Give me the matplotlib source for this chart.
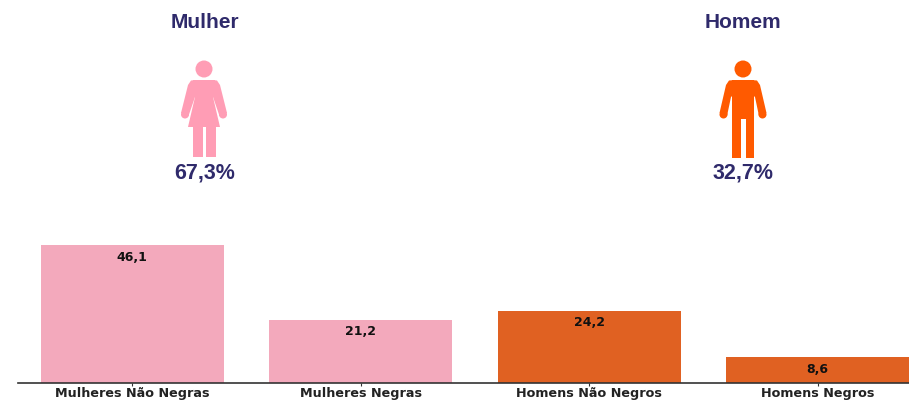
import matplotlib
matplotlib.use('Agg')
import matplotlib.pyplot as plt
from matplotlib.patches import Circle, Polygon, Rectangle

categorias = ['Mulheres Não Negras', 'Mulheres Negras', 'Homens Não Negros', 'Homens Negros']
valores = [46.1, 21.2, 24.2, 8.6]
rotulos = ['46,1', '21,2', '24,2', '8,6']
cores = ['#f3a9bc', '#f3a9bc', '#e06122', '#e06122']

generos = ['Mulher', 'Homem']
percentuais = ['67,3%', '32,7%']
ROXO = '#2f2a6b'
ROSA = '#ff9db5'
LARANJA = '#ff5a00'

W, H = 909, 400

fig = plt.figure(figsize=(W / 100, H / 100), dpi=100)

# area das barras, em pixels da imagem
ax = fig.add_axes([18 / W, (H - 383) / H, (W - 18) / W, 153 / H])
ax.bar(range(4), valores, width=0.8, color=cores)
ax.set_xlim(-0.5, 3.4)
ax.set_ylim(0, 51.2)
ax.set_xticks(range(4))
ax.set_xticklabels(categorias, fontsize=9.2, fontweight='bold', color='#222222')
ax.tick_params(axis='x', length=2, width=0.8, pad=0.8, color='#333333')
ax.set_yticks([])
for lado in ['top', 'right', 'left']:
    ax.spines[lado].set_visible(False)
ax.spines['bottom'].set_color('#333333')
ax.spines['bottom'].set_linewidth(1.2)

for i, v in enumerate(valores):
    ax.annotate(rotulos[i], (i, v), xytext=(0, -8.5), textcoords='offset points',
                ha='center', va='center', fontsize=9, fontweight='bold', color='#111111')

# camada de cima para os icones e os titulos
topo = fig.add_axes([0, 0, 1, 1])
topo.set_xlim(0, W)
topo.set_ylim(H, 0)
topo.axis('off')


def bracos(cx, cor, fora, dentro, mao):
    # fora: ombro externo, dentro: axila, mao: centro da mao
    for s in [-1, 1]:
        topo.add_patch(Polygon([(cx + s * 8, 80), (cx + s * (fora - 3), 80.5), (cx + s * fora, 85),
                                (cx + s * (mao + 4), 113), (cx + s * (mao - 3.5), 116),
                                (cx + s * dentro, 97), (cx + s * 6, 92)], closed=True, color=cor, lw=0))
        topo.add_patch(Circle((cx + s * mao, 114.5), 4, color=cor, lw=0))


def mulher(cx, cor):
    topo.add_patch(Circle((cx, 69), 8.5, color=cor, lw=0))
    # vestido
    topo.add_patch(Polygon([(cx - 11, 80), (cx + 11, 80), (cx + 9, 97), (cx + 16, 127),
                            (cx - 16, 127), (cx - 9, 97)], closed=True, color=cor, lw=0))
    bracos(cx, cor, 16, 9, 19)
    # pernas
    topo.add_patch(Rectangle((cx - 11, 125), 9.5, 31.5, color=cor, lw=0))
    topo.add_patch(Rectangle((cx + 2, 125), 9.5, 31.5, color=cor, lw=0))


def homem(cx, cor):
    topo.add_patch(Circle((cx, 69), 8.5, color=cor, lw=0))
    # tronco e pernas
    topo.add_patch(Polygon([(cx - 11, 80), (cx + 11, 80), (cx + 11, 158), (cx + 2.5, 158), (cx + 2.5, 119),
                            (cx - 2.5, 119), (cx - 2.5, 158), (cx - 11, 158)], closed=True, color=cor, lw=0))
    bracos(cx, cor, 17, 12, 19.5)


mulher(204, ROSA)
homem(743, LARANJA)

fonte = ['Liberation Sans', 'DejaVu Sans']
for x, g, p in zip([205, 743], generos, percentuais):
    topo.text(x, 22, g, ha='center', va='center', fontsize=15, fontweight='bold', color=ROXO, family=fonte)
    topo.text(x, 173, p, ha='center', va='center', fontsize=15.5, fontweight='bold', color=ROXO, family=fonte)

fig.savefig('out.png', dpi=100)
plt.close()
